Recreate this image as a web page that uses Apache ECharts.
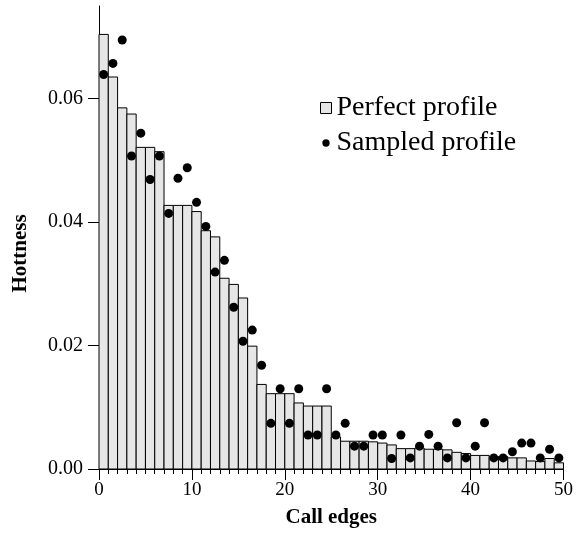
<!DOCTYPE html>
<html><head><meta charset="utf-8">
<script src="https://cdn.jsdelivr.net/npm/echarts@6/dist/echarts.min.js"></script>
<style>html,body{margin:0;padding:0;background:#fff}#c{width:576px;height:533px}</style>
</head><body><div id="c"></div>
<script>
const edges = [0,1,2,3,4,5,6,7,8,9,10,11,12,13,14,15,16,17,18,19,20,21,22,23,24,25,26,27,28,29,30,31,32,33,34,35,36,37,38,39,40,41,42,43,44,45,46,47,48,49];
const perfect = [0.0704,0.0635,0.0585,0.0575,0.0521,0.0521,0.0514,0.0427,0.0427,0.0427,
  0.0417,0.0386,0.0376,0.0309,0.0299,0.0277,0.0199,0.0137,0.0122,0.0122,
  0.0122,0.0107,0.0102,0.0102,0.0102,0.0052,0.0045,0.0045,0.0045,0.0044,
  0.0042,0.0039,0.0033,0.0033,0.0034,0.0032,0.0032,0.0031,0.0027,0.0025,
  0.0022,0.0022,0.0020,0.0020,0.0018,0.0018,0.0013,0.0012,0.0017,0.0010];
const sampled = [0.0639,0.0657,0.0695,0.0507,0.0544,0.0469,0.0507,0.0414,0.0471,0.0488,
  0.0432,0.0393,0.0319,0.0338,0.0262,0.0207,0.0225,0.0168,0.0074,0.0130,
  0.0074,0.0130,0.0055,0.0055,0.0130,0.0055,0.0074,0.0037,0.0037,0.0055,
  0.0055,0.0017,0.0055,0.0018,0.0037,0.0056,0.0037,0.0018,0.0075,0.0018,
  0.0037,0.0075,0.0018,0.0018,0.0028,0.0042,0.0042,0.0018,0.0032,0.0018];
const yTicks = [0, 0.02, 0.04, 0.06];
const xTicks = [0, 10, 20, 30, 40, 50];
const seriesNames = ['Perfect profile', 'Sampled profile'];

const FONT = 'Liberation Serif';
const chart = echarts.init(document.getElementById('c'), null, {renderer: 'canvas'});
chart.setOption({
  animation: false,
  backgroundColor: '#fff',
  grid: {left: 99, right: 12, top: 6, bottom: 62, containLabel: false},
  legend: {
    orient: 'vertical', left: 315, top: 89, itemGap: 7, itemWidth: 11, itemHeight: 11,
    textStyle: {fontFamily: FONT, fontSize: 28, color: '#000'},
    data: [
      {name: seriesNames[0], icon: 'rect', itemStyle: {color: '#e6e6e6', borderColor: '#000', borderWidth: 1}},
      {name: seriesNames[1], icon: 'path://M0,0M12,12M10,6A4,4,0,1,1,2,6A4,4,0,1,1,10,6Z', itemStyle: {color: '#000', opacity: 1}}
    ]
  },
  xAxis: {
    type: 'value', min: xTicks[0], max: xTicks[xTicks.length - 1], interval: 10,
    name: 'Call edges', nameLocation: 'middle', nameGap: 38,
    nameTextStyle: {fontFamily: FONT, fontSize: 21, fontWeight: 'bold', color: '#000'},
    axisLine: {show: true, lineStyle: {color: '#000', width: 1}},
    axisTick: {show: true, length: 11, lineStyle: {color: '#000', width: 1}},
    minorTick: {show: true, splitNumber: 10, length: 5, lineStyle: {color: '#000', width: 1}},
    axisLabel: {fontFamily: FONT, fontSize: 19, color: '#000', margin: 12},
    splitLine: {show: false}, minorSplitLine: {show: false}
  },
  yAxis: {
    type: 'value', min: 0, max: 0.075, interval: 0.02,
    name: 'Hottness', nameLocation: 'middle', nameGap: 68,
    nameTextStyle: {fontFamily: FONT, fontSize: 21, fontWeight: 'bold', color: '#000', padding: [0, 32, 0, 0]},
    axisLine: {show: true, lineStyle: {color: '#000', width: 1}},
    axisTick: {show: true, length: 11, lineStyle: {color: '#000', width: 1}, customValues: yTicks},
    axisLabel: {fontFamily: FONT, fontSize: 20, color: '#000', margin: 16, customValues: yTicks,
      formatter: v => v.toFixed(2)},
    splitLine: {show: false}
  },
  series: [
    {
      name: seriesNames[0], type: 'custom',
      itemStyle: {color: '#e6e6e6', borderColor: '#000', borderWidth: 1},
      encode: {x: 0, y: 1},
      data: perfect.map((v, i) => [edges[i], v]),
      renderItem: function (params, api) {
        const x = api.value(0), v = api.value(1);
        const p0 = api.coord([x, v]);
        const p1 = api.coord([x + 1, 0]);
        return {type: 'rect', shape: {x: p0[0], y: p0[1], width: p1[0] - p0[0], height: p1[1] - p0[1]},
          style: {fill: '#e6e6e6', stroke: '#000', lineWidth: 1}};
      },
      z: 1
    },
    {
      name: seriesNames[1], type: 'scatter', symbol: 'circle', symbolSize: 9,
      itemStyle: {color: '#000', opacity: 1},
      data: sampled.map((v, i) => [edges[i] + 0.5, v]),
      z: 3
    }
  ]
});
</script></body></html>
